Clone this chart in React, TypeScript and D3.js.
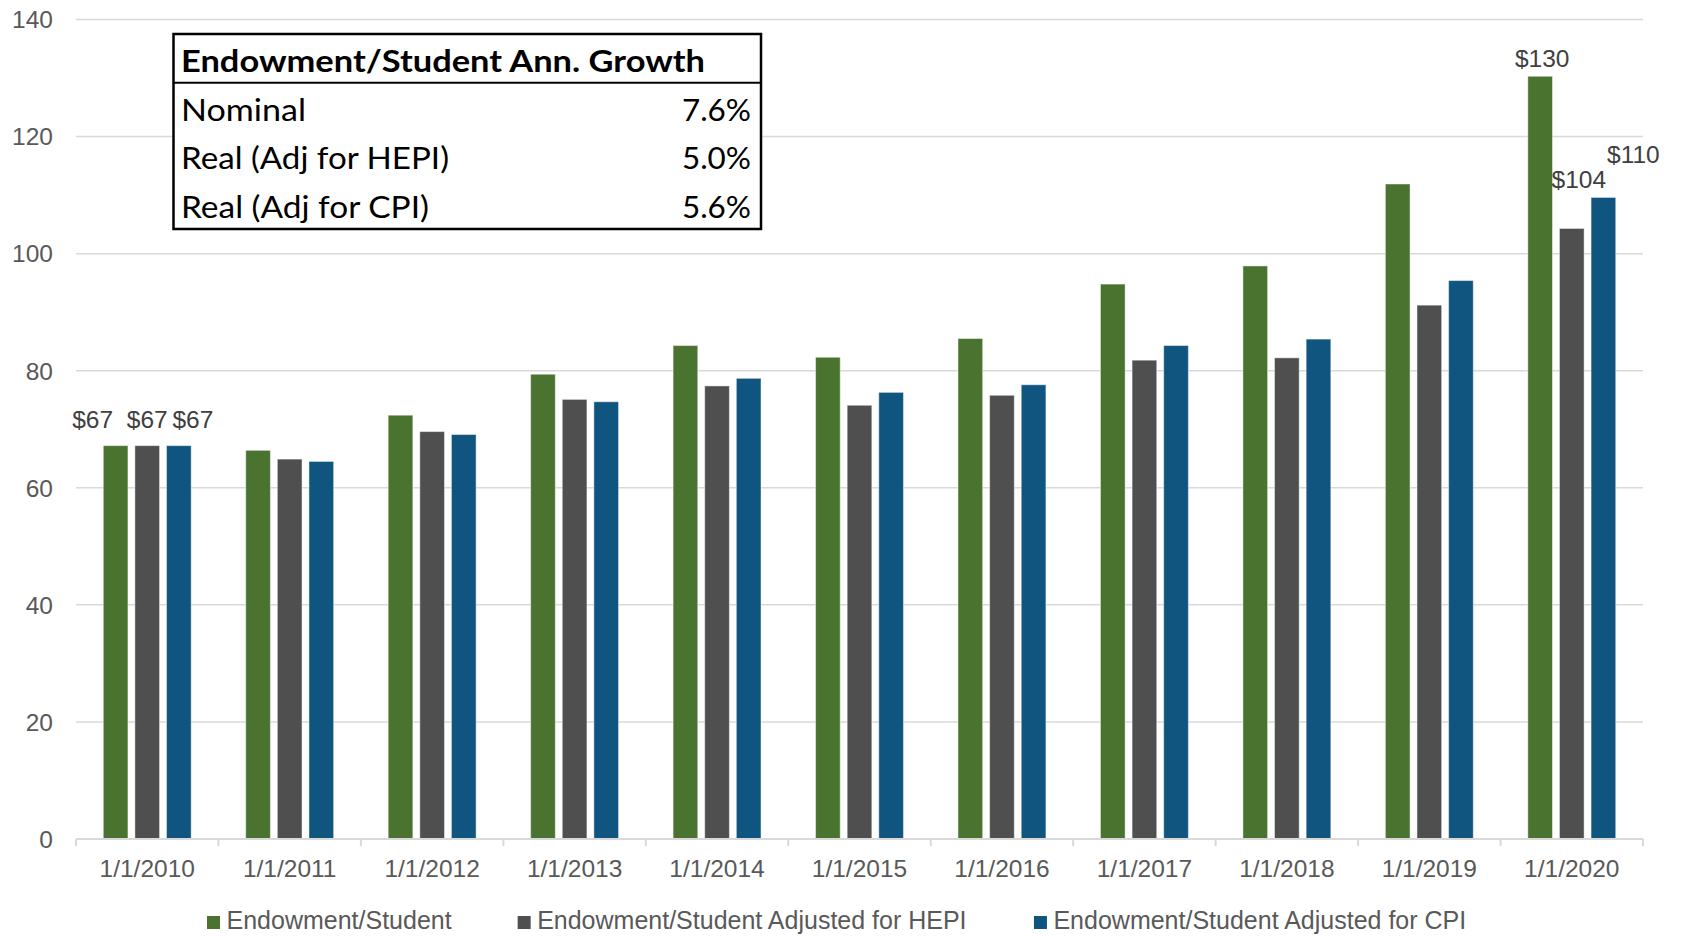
import React from "react";
import * as d3 from "d3";

// Fiscal-year snapshots
const years = [
  "1/1/2010", "1/1/2011", "1/1/2012", "1/1/2013", "1/1/2014", "1/1/2015",
  "1/1/2016", "1/1/2017", "1/1/2018", "1/1/2019", "1/1/2020",
];

// Endowment per student ($ thousands)
const nominal = [67.2, 66.4, 72.4, 79.4, 84.3, 82.3, 85.5, 94.8, 97.9, 111.9, 130.3];
const adjHepi = [67.2, 64.9, 69.6, 75.1, 77.4, 74.1, 75.8, 81.8, 82.2, 91.2, 104.3];
const adjCpi = [67.2, 64.5, 69.1, 74.7, 78.7, 76.3, 77.6, 84.3, 85.4, 95.4, 109.6];

const seriesNames = [
  "Endowment/Student",
  "Endowment/Student Adjusted for HEPI",
  "Endowment/Student Adjusted for CPI",
];
const seriesColors = ["#4a7330", "#4f4f4f", "#10557f"];

const yTicks = [0, 20, 40, 60, 80, 100, 120, 140];

// Annualised growth summary
const growthHeader = "Endowment/Student Ann. Growth";
const growthLabels = ["Nominal", "Real (Adj for HEPI)", "Real (Adj for CPI)"];
const growthRates = ["7.6%", "5.0%", "5.6%"];

// Years whose bars carry value labels
const labelledYears = ["1/1/2010", "1/1/2020"];

const W = 1684;
const H = 936;
const plot = { left: 76, right: 1643, top: 19.5, bottom: 839 };
const AXIS_FONT = "'Liberation Sans', Arial, sans-serif";
const TABLE_FONT = "Lato, 'Open Sans', sans-serif";

// Hand-placed nudges for value labels: [dx, gap above bar top]
const labelNudge: Record<string, [number, number]> = {
  "1/1/2010-0": [-23, 18],
  "1/1/2010-1": [0, 18],
  "1/1/2010-2": [14, 18],
  "1/1/2020-0": [2, 9],
  "1/1/2020-1": [7, 40],
  "1/1/2020-2": [30, 34],
};

function measure(text: string, font: string): number {
  const c = document.createElement("canvas").getContext("2d");
  if (!c) return text.length * 12;
  c.font = font;
  return c.measureText(text).width;
}

export default function App() {
  const seriesValues = [nominal, adjHepi, adjCpi];

  const x0 = d3.scaleBand<string>().domain(years).range([plot.left, plot.right]);
  const bw = x0.bandwidth();
  const groupW = 87.9;
  const x1 = d3
    .scaleBand<number>()
    .domain([0, 1, 2])
    .range([(bw - groupW) / 2, (bw + groupW) / 2])
    .paddingInner(0.22)
    .paddingOuter(0);
  const y = d3.scaleLinear().domain([0, 140]).range([plot.bottom, plot.top]);

  // legend layout
  const legendFontSize = 25;
  let lx = 207;
  const legendItems = seriesNames.map((name, i) => {
    const item = { name, color: seriesColors[i], x: lx };
    lx += 19.5 + measure(name, `${legendFontSize}px ${AXIS_FONT}`) + 66;
    return item;
  });

  const table = { x0: 173.5, x1: 761, y0: 34, y1: 229, headerLine: 82.7 };

  return (
    <svg
      width={W}
      height={H}
      style={{ position: "absolute", left: 0, top: 0, display: "block", background: "#fff" }}
    >
      {/* gridlines */}
      {yTicks.slice(1).map((t) => (
        <line
          key={`g${t}`}
          x1={plot.left}
          x2={plot.right}
          y1={y(t)}
          y2={y(t)}
          stroke="#d9d9d9"
          strokeWidth={1.5}
        />
      ))}

      {/* y tick labels */}
      {yTicks.map((t) => (
        <text
          key={`yt${t}`}
          x={53}
          y={y(t)}
          dy="0.36em"
          textAnchor="end"
          fontFamily={AXIS_FONT}
          fontSize={24.5}
          fill="#595959"
        >
          {t}
        </text>
      ))}

      {/* bars */}
      {years.map((yr, yi) => (
        <g key={yr} transform={`translate(${x0(yr)},0)`}>
          {seriesValues.map((vals, si) => (
            <rect
              key={si}
              x={x1(si)}
              y={y(vals[yi])}
              width={x1.bandwidth()}
              height={y(0) - y(vals[yi])}
              fill={seriesColors[si]}
              stroke="#ffffff"
              strokeOpacity={0.45}
              strokeWidth={1}
            />
          ))}
        </g>
      ))}

      {/* x axis */}
      <line
        x1={plot.left}
        x2={plot.right}
        y1={plot.bottom}
        y2={plot.bottom}
        stroke="#d9d9d9"
        strokeWidth={2}
      />
      {[...years.map((yr) => x0(yr) as number), plot.right].map((tx, i) => (
        <line
          key={`tk${i}`}
          x1={tx}
          x2={tx}
          y1={plot.bottom}
          y2={plot.bottom + 7}
          stroke="#d9d9d9"
          strokeWidth={2}
        />
      ))}
      {years.map((yr) => (
        <text
          key={`xl${yr}`}
          x={(x0(yr) as number) + bw / 2}
          y={877}
          textAnchor="middle"
          fontFamily={AXIS_FONT}
          fontSize={24.5}
          fill="#595959"
        >
          {yr}
        </text>
      ))}

      {/* value labels */}
      {labelledYears.map((yr) => {
        const yi = years.indexOf(yr);
        return seriesValues.map((vals, si) => {
          const [dx, gap] = labelNudge[`${yr}-${si}`] || [0, 10];
          const cx = (x0(yr) as number) + (x1(si) as number) + x1.bandwidth() / 2;
          return (
            <text
              key={`vl${yr}${si}`}
              x={cx + dx}
              y={y(vals[yi]) - gap}
              textAnchor="middle"
              fontFamily={AXIS_FONT}
              fontSize={24.5}
              fill="#404040"
            >
              {`$${d3.format(".0f")(vals[yi])}`}
            </text>
          );
        });
      })}

      {/* growth summary table */}
      <rect
        x={table.x0}
        y={table.y0}
        width={table.x1 - table.x0}
        height={table.y1 - table.y0}
        fill="#ffffff"
        stroke="#000000"
        strokeWidth={2.5}
      />
      <line
        x1={table.x0}
        x2={table.x1}
        y1={table.headerLine}
        y2={table.headerLine}
        stroke="#000000"
        strokeWidth={2}
      />
      <text
        x={181}
        y={71.7}
        fontFamily={TABLE_FONT}
        fontWeight="bold"
        fontSize={30}
        fill="#000"
        textLength={524}
        lengthAdjust="spacingAndGlyphs"
      >
        {growthHeader}
      </text>
      {growthLabels.map((lab, i) => {
        const base = 120.5 + i * 48.7;
        const widths = [125, 268, 248];
        return (
          <g key={lab}>
            <text
              x={181}
              y={base}
              fontFamily={TABLE_FONT}
              fontSize={30}
              fill="#000"
              textLength={widths[i]}
              lengthAdjust="spacingAndGlyphs"
            >
              {lab}
            </text>
            <text
              x={751}
              y={base}
              textAnchor="end"
              fontFamily={TABLE_FONT}
              fontSize={30}
              fill="#000"
              textLength={69}
              lengthAdjust="spacingAndGlyphs"
            >
              {growthRates[i]}
            </text>
          </g>
        );
      })}

      {/* legend */}
      {legendItems.map((it) => (
        <g key={it.name}>
          <rect x={it.x} y={916} width={13} height={13} fill={it.color} />
          <text
            x={it.x + 19.5}
            y={929}
            fontFamily={AXIS_FONT}
            fontSize={legendFontSize}
            fill="#595959"
          >
            {it.name}
          </text>
        </g>
      ))}
    </svg>
  );
}
